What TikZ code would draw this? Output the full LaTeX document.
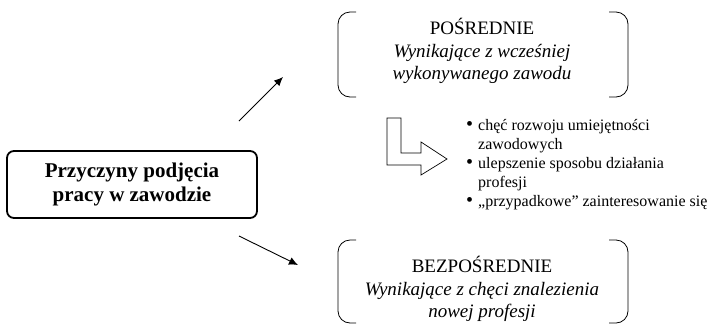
\documentclass[tikz,border=0pt]{standalone}
\usepackage{fontspec}
\setmainfont{Liberation Serif}
\usetikzlibrary{arrows.meta}
\newcommand{\bigbul}{\raisebox{0.5pt}{\scalebox{1.25}{\textbullet}}}
\begin{document}
\begin{tikzpicture}[x=1pt,y=-1pt,
  mainbox/.style={draw,line width=1.8pt,rounded corners=7pt,minimum width=250pt,minimum height=67pt,align=center,font=\fontsize{21}{24}\selectfont\bfseries},
  brtext/.style={align=center,font=\fontsize{19}{22.5}\selectfont},
  bracket/.style={line width=0.8pt,rounded corners=12pt},
  arr/.style={line width=0.9pt,-{Latex[length=9pt,width=8pt]}},
  bullets/.style={anchor=north west,inner sep=0pt,font=\fontsize{16}{19}\selectfont,align=left}
]
\useasboundingbox (0,0) rectangle (712,325);
\node[mainbox] (main) at (132,184.5) {Przyczyny podjęcia\\pracy w zawodzie};
% top group
\node[brtext] (top) at (482,51) {POŚREDNIE\\\textit{Wynikające z wcześniej}\\\textit{wykonywanego zawodu}};
\draw[bracket] (356,12) -- (338,12) -- (338,97) -- (356,97);
\draw[bracket] (609,12) -- (628,12) -- (628,97) -- (609,97);
% bottom group
\node[brtext] (bot) at (482,289) {BEZPOŚREDNIE\\\textit{Wynikające z chęci znalezienia}\\\textit{nowej profesji}};
\draw[bracket] (356,240) -- (338,240) -- (338,323) -- (356,323);
\draw[bracket] (609,240) -- (628,240) -- (628,323) -- (609,323);
% arrows
\coordinate (a1s) at (239,121);
\coordinate (a1e) at (283,77);
\coordinate (a2s) at (239,236);
\coordinate (a2e) at (298,265);
\draw[arr] (a1s) -- (a1e);
\draw[arr] (a2s) -- (a2e);
% L-shaped outline arrow
\draw[line width=0.7pt,line join=miter] (387,118) -- (401,118) -- (401,153) -- (421,153) -- (421,142) -- (447,159) -- (421,175) -- (421,165) -- (387,165) -- cycle;
% bullets
\node[bullets] (list) at (466,117) {%
\begin{tabular}{@{}l@{\hspace{5pt}}l@{}}
\bigbul & chęć rozwoju umiejętności\\
 & zawodowych\\
\bigbul & ulepszenie sposobu działania\\
 & profesji\\
\bigbul & „przypadkowe” zainteresowanie się
\end{tabular}};
\end{tikzpicture}
\end{document}
